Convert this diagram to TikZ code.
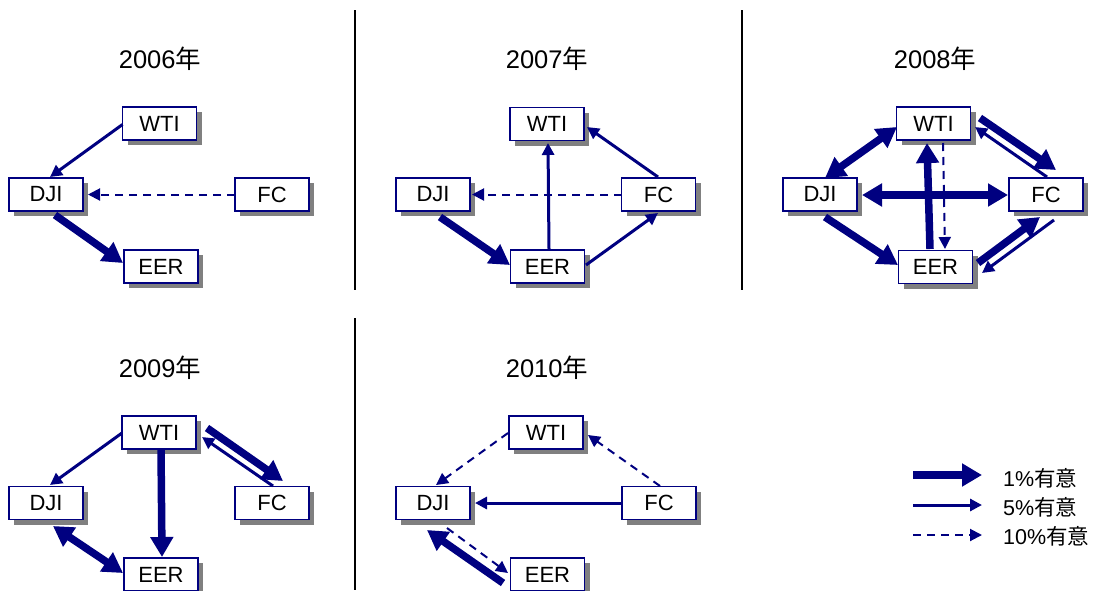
\documentclass[tikz,border=0pt]{standalone}
\usepackage{fontspec}
\setmainfont{Liberation Sans}
\newfontfamily\cjk{Noto Sans CJK JP}
\usetikzlibrary{arrows.meta,shadows,calc}
\definecolor{nv}{RGB}{0,0,128}
\definecolor{shd}{RGB}{128,128,128}
\tikzset{
  box/.style={draw=nv, line width=1.5pt, fill=white, minimum width=74pt, minimum height=33pt,
    inner sep=0pt, font=\fontsize{22}{22}\selectfont,
    drop shadow={shadow xshift=5pt, shadow yshift=-5pt, fill=shd, opacity=1}},
  ttl/.style={font=\fontsize{25.5}{28}\selectfont, inner sep=0pt, anchor=base},
  leg/.style={font=\fontsize{21.5}{23}\selectfont, inner sep=0pt, anchor=base west},
  sigA/.style={draw=nv, line width=7.5pt, -{Triangle[length=20pt,width=22pt]}},
  sigAd/.style={draw=nv, line width=7.5pt, {Triangle[length=20pt,width=22pt]}-{Triangle[length=20pt,width=22pt]}},
  sigB/.style={draw=nv, line width=3pt, -{Triangle[length=12pt,width=12pt]}},
  sigC/.style={draw=nv, line width=2pt, dash pattern=on 8pt off 6pt, -{Triangle[length=12pt,width=12pt]}},
  divider/.style={draw=black, line width=1.6pt}
}
\begin{document}
\begin{tikzpicture}[x=1pt,y=-1pt]
\useasboundingbox (0,0) rectangle (1093,590);
\clip (0,0) rectangle (1093,590);

% dividers
\coordinate (v1a) at (355,10); \coordinate (v1b) at (355,290);
\coordinate (v2a) at (742,10); \coordinate (v2b) at (742,290);
\coordinate (v3a) at (355,318); \coordinate (v3b) at (355,590);
\draw[divider] (v1a) -- (v1b);
\draw[divider] (v2a) -- (v2b);
\draw[divider] (v3a) -- (v3b);

% titles
\node[ttl] (t1) at (160,68) {2006{\cjk 年}};
\node[ttl] (t2) at (547,68) {2007{\cjk 年}};
\node[ttl] (t3) at (935,68) {2008{\cjk 年}};
\node[ttl] (t4) at (160,377) {2009{\cjk 年}};
\node[ttl] (t5) at (547,377) {2010{\cjk 年}};

% panel 1
\node[box] (W1) at (159.5,123.5) {WTI};
\node[box] (D1) at (46,194.5) {DJI};
\node[box] (F1) at (272,194.5) {FC};
\node[box] (E1) at (161,266.5) {EER};
% panel 2
\node[box] (W2) at (547,124) {WTI};
\node[box] (D2) at (433,194.5) {DJI};
\node[box] (F2) at (658.5,194.5) {FC};
\node[box] (E2) at (547.5,266.5) {EER};
% panel 3
\node[box] (W3) at (933.5,123.5) {WTI};
\node[box] (D3) at (820,194.5) {DJI};
\node[box] (F3) at (1046,194.5) {FC};
\node[box] (E3) at (935.5,267) {EER};
% panel 4
\node[box] (W4) at (159,432.5) {WTI};
\node[box] (D4) at (46,503) {DJI};
\node[box] (F4) at (272,503) {FC};
\node[box] (E4) at (161,574.5) {EER};
% panel 5
\node[box] (W5) at (546,432.5) {WTI};
\node[box] (D5) at (433,503) {DJI};
\node[box] (F5) at (659,503) {FC};
\node[box] (E5) at (547.5,574.5) {EER};

% panel 1 arrows
\draw[sigB] ([shift={(-37,1)}]W1.center) -- ([shift={(4,-17.5)}]D1.center);
\draw[sigC] ([shift={(-37,0)}]F1.center) -- ([shift={(42,0)}]D1.center);
\draw[sigA] ([shift={(9,20.5)}]D1.center) -- ([shift={(-38,-3.5)}]E1.center);

% panel 2 arrows
\draw[sigA] ([shift={(7,22.5)}]D2.center) -- ([shift={(-37.5,-1.5)}]E2.center);
\draw[sigB] ([shift={(1.5,-17.5)}]E2.center) -- ([shift={(1,19)}]W2.center);
\draw[sigB] ([shift={(-0.5,-17.5)}]F2.center) -- ([shift={(40,3)}]W2.center);
\draw[sigB] ([shift={(38.5,-1.5)}]E2.center) -- ([shift={(-0.5,18.5)}]F2.center);
\draw[sigC] ([shift={(-36.5,0)}]F2.center) -- ([shift={(39,0)}]D2.center);

% panel 3 arrows
\draw[sigAd] ([shift={(5,-16.5)}]D3.center) -- ([shift={(-36.5,3.5)}]W3.center);
\draw[sigAd] ([shift={(42,0.5)}]D3.center) -- ([shift={(-38,0.5)}]F3.center);
\draw[sigA] ([shift={(-5.5,-18)}]E3.center) -- ([shift={(-6.5,19.5)}]W3.center);
\draw[sigC] ([shift={(9.5,19.5)}]W3.center) -- ([shift={(9.5,-18)}]E3.center);
\draw[sigA] ([shift={(5,22.5)}]D3.center) -- ([shift={(-37.5,-2)}]E3.center);
\draw[sigA] ([shift={(46.5,-5.5)}]W3.center) -- ([shift={(10,-24.5)}]F3.center);
\draw[sigB] ([shift={(1,-17.5)}]F3.center) -- ([shift={(41.5,3.5)}]W3.center);
\draw[sigA] ([shift={(42.5,-4)}]E3.center) -- ([shift={(-6,22.5)}]F3.center);
\draw[sigB] ([shift={(8,25.5)}]F3.center) -- ([shift={(46.5,6)}]E3.center);

% panel 4 arrows
\draw[sigB] ([shift={(-37,0.5)}]W4.center) -- ([shift={(4,-18)}]D4.center);
\draw[sigA] ([shift={(2,16.5)}]W4.center) -- ([shift={(1,-17.5)}]E4.center);
\draw[sigA] ([shift={(48,-4.5)}]W4.center) -- ([shift={(11,-22)}]F4.center);
\draw[sigB] ([shift={(1,-17)}]F4.center) -- ([shift={(43,4.5)}]W4.center);
\draw[sigAd] ([shift={(7,23)}]D4.center) -- ([shift={(-38,-1.5)}]E4.center);

% panel 5 arrows
\draw[sigC] ([shift={(-38,0.5)}]W5.center) -- ([shift={(3,-18)}]D5.center);
\draw[sigC] ([shift={(1,-17)}]F5.center) -- ([shift={(42,2.5)}]W5.center);
\draw[sigB] ([shift={(-37,0)}]F5.center) -- ([shift={(42,0)}]D5.center);
\draw[sigC] ([shift={(14,25)}]D5.center) -- ([shift={(-39.5,-1.5)}]E5.center);
\draw[sigA] ([shift={(-44.5,8.5)}]E5.center) -- ([shift={(-6,27)}]D5.center);

% legend
\coordinate (la1) at (913,475); \coordinate (lb1) at (982,475);
\coordinate (la2) at (913,505); \coordinate (lb2) at (982,505);
\coordinate (la3) at (913,535); \coordinate (lb3) at (982,535);
\draw[sigA] (la1) -- (lb1);
\draw[sigB] (la2) -- (lb2);
\draw[sigC] (la3) -- (lb3);
\node[leg] (lt1) at (1003,486) {1\%{\cjk 有意}};
\node[leg] (lt2) at (1003,515) {5\%{\cjk 有意}};
\node[leg] (lt3) at (1003,544) {10\%{\cjk 有意}};
\end{tikzpicture}
\end{document}
